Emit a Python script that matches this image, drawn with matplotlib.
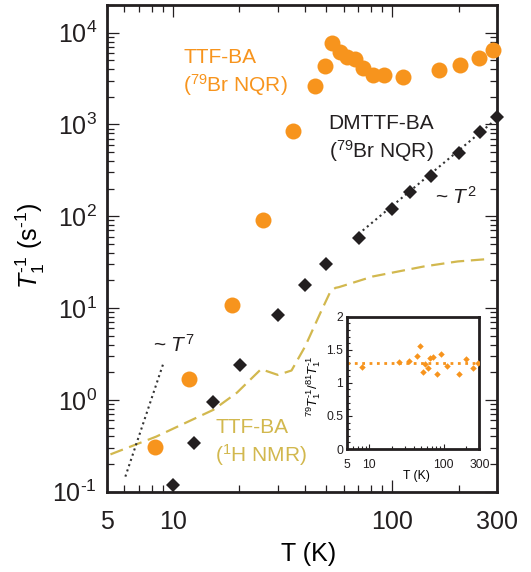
import matplotlib
matplotlib.use('Agg')
import matplotlib.pyplot as plt
from matplotlib.ticker import FixedLocator, FixedFormatter, NullFormatter, LogLocator, MultipleLocator

plt.rcParams['font.family'] = ['Liberation Sans', 'DejaVu Sans']
plt.rcParams['mathtext.fontset'] = 'custom'
plt.rcParams['mathtext.rm'] = 'Liberation Sans'
plt.rcParams['mathtext.it'] = 'Liberation Sans:italic'
plt.rcParams['mathtext.bf'] = 'Liberation Sans:bold'

HY = '\u2010'  # plain hyphen, the original uses it instead of a minus

# TTF-BA, 79Br NQR (orange circles)
ttf_T = [8.3, 11.9, 18.5, 25.6, 35.3, 44.3, 49.1, 53.2, 57.6, 62.3, 67.6, 73.2,
         81.4, 91.5, 112, 163, 202, 247, 287]
ttf_rate = [0.31, 1.68, 10.9, 92, 840, 2610, 4350, 7700, 6130, 5460, 5100, 4170,
            3440, 3440, 3300, 3940, 4420, 5330, 6440]

# DMTTF-BA, 79Br NQR (black diamonds)
dm_T = [10.0, 12.5, 15.3, 20.3, 30.1, 40.1, 49.8, 70.1, 100, 120, 150, 201, 250, 300]
dm_rate = [0.119, 0.34, 0.944, 2.39, 8.39, 17.8, 30.2, 58.4, 121, 182, 277, 494, 822, 1210]

# TTF-BA, 1H NMR (dashed curve)
nmr_T = [5.2, 8.4, 15.3, 19.6, 25.2, 30.1, 34.7, 40, 46.9, 52.2, 55, 57, 81.4, 139, 198, 272]
nmr_rate = [0.255, 0.398, 0.78, 1.2, 2.16, 1.87, 2.09, 3.81, 8.8, 15.2, 16.6, 16.9,
            22.1, 28.4, 32.2, 34.2]

# guide lines ~T^2 and ~T^7 (end points)
t2_T = [70, 283]
t2_rate = [64, 1040]
t7_T = [6.08, 9.08]
t7_rate = [0.146, 2.55]

# inset: 79T1^-1 / 81T1^-1
ratio_T = [8.05, 25.2, 34.3, 43.6, 47.8, 52.5, 56.5, 60.7, 65.3, 70.9, 80.3, 90.9,
           110.7, 162, 200, 245, 287]
ratio = [1.24, 1.31, 1.33, 1.41, 1.56, 1.17, 1.28, 1.23, 1.37, 1.39, 1.14, 1.43,
         1.25, 1.14, 1.36, 1.23, 1.30]
ratio_mean = 1.30

x_major = [5, 10, 100, 300]
x_labels = ['5', '10', '100', '300']
x_minor = [6, 7, 8, 9, 20, 30, 40, 50, 60, 70, 80, 90, 200]
y_major = [0.1, 1, 10, 100, 1000, 10000]
y_labels = ['$10^{' + HY + '1}$', '$10^{0}$', '$10^{1}$', '$10^{2}$', '$10^{3}$', '$10^{4}$']

ORANGE = '#F7941D'
BLACK = '#231F20'
GOLD = '#D2B84E'

W, H = 531, 572
fig = plt.figure(figsize=(W / 100, H / 100), dpi=100)


def fx(px):
    return px / W


def fy(py):
    return 1 - py / H


ax = fig.add_axes([fx(106.7), fy(491.7), (497.3 - 106.7) / W, (491.7 - 5) / H])
ax.set_xscale('log')
ax.set_yscale('log')

ax.plot(nmr_T, nmr_rate, '--', color=GOLD, lw=1.6, dashes=(6, 3), zorder=2)
ax.plot(t2_T, t2_rate, ':', color='#333333', lw=1.5, zorder=2)
ax.plot(t7_T, t7_rate, ':', color='#333333', lw=1.5, zorder=2)
ax.plot(ttf_T, ttf_rate, 'o', color=ORANGE, ms=11.5, mew=0, clip_on=False, zorder=3)
ax.plot(dm_T, dm_rate, 'D', color=BLACK, ms=6.8, mew=0, clip_on=False, zorder=4)

ax.set_xlim(5, 300)
ax.set_ylim(0.1, 2e4)
ax.xaxis.set_major_locator(FixedLocator(x_major))
ax.xaxis.set_major_formatter(FixedFormatter(x_labels))
ax.xaxis.set_minor_locator(FixedLocator(x_minor))
ax.xaxis.set_minor_formatter(NullFormatter())
ax.yaxis.set_major_locator(FixedLocator(y_major))
ax.yaxis.set_major_formatter(FixedFormatter(y_labels))
ax.yaxis.set_minor_locator(LogLocator(base=10, subs=range(2, 10), numticks=20))
ax.yaxis.set_minor_formatter(NullFormatter())

ax.tick_params(which='both', direction='in', top=True, right=True, width=0.9, colors='#231F20')
ax.tick_params(which='major', length=8.6, labelsize=18)
ax.tick_params(which='minor', length=4.7)
ax.tick_params(axis='x', which='major', pad=13)
ax.tick_params(axis='y', which='major', pad=7)
for s in ax.spines.values():
    s.set_linewidth(2.0)
    s.set_color('#231F20')

ax.set_xlabel('T (K)', fontsize=18, va='center')
ax.xaxis.set_label_coords((308.3 - 106.7) / 390.6, (491.7 - 554) / 486.7)
ax.set_ylabel('$T_1^{' + HY + '1}$ (s$^{' + HY + '1}$)', fontsize=18, va='center')
ax.yaxis.set_label_coords((30 - 106.7) / 390.6, (491.7 - 246) / 486.7)

# annotations
fig.text(fx(183), fy(73), 'TTF-BA\n($^{79}$Br NQR)', color=ORANGE, fontsize=15,
         ha='left', va='center', linespacing=1.3)
fig.text(fx(328.6), fy(139), 'DMTTF-BA\n($^{79}$Br NQR)', color=BLACK, fontsize=15,
         ha='left', va='center', linespacing=1.3)
fig.text(fx(215), fy(443), 'TTF-BA\n($^{1}$H NMR)', color=GOLD, fontsize=15,
         ha='left', va='center', linespacing=1.3)
fig.text(fx(435), fy(197), '~ $T^2$', color=BLACK, fontsize=15, ha='left', va='center')
fig.text(fx(153), fy(345), '~ $T^7$', color=BLACK, fontsize=15, ha='left', va='center')

# inset
axin = fig.add_axes([fx(346.7), fy(449), 132.6 / W, 132.3 / H])
axin.set_xscale('log')
axin.axhline(ratio_mean, color=ORANGE, ls=':', lw=2.0, zorder=2)
axin.plot(ratio_T, ratio, 'D', color=ORANGE, ms=3.3, mew=0, zorder=3)
axin.set_xlim(5, 300)
axin.set_ylim(0, 2)
axin.xaxis.set_major_locator(FixedLocator(x_major))
axin.xaxis.set_major_formatter(FixedFormatter(x_labels))
axin.xaxis.set_minor_locator(FixedLocator(x_minor))
axin.xaxis.set_minor_formatter(NullFormatter())
axin.yaxis.set_major_locator(FixedLocator([0, 0.5, 1, 1.5, 2]))
axin.yaxis.set_major_formatter(FixedFormatter(['0', '0.5', '1', '1.5', '2']))
axin.yaxis.set_minor_locator(MultipleLocator(0.1))
axin.tick_params(which='both', direction='in', width=0.8, colors='#231F20')
axin.tick_params(which='major', length=3.6, labelsize=8.7)
axin.tick_params(which='minor', length=2.2)
axin.tick_params(axis='x', which='major', pad=7)
axin.tick_params(axis='y', which='major', pad=2.5)
for s in axin.spines.values():
    s.set_linewidth(2.0)
    s.set_color('#231F20')
axin.set_xlabel('T (K)', fontsize=8.7, va='center')
axin.xaxis.set_label_coords((416.7 - 346.7) / 132.6, (449 - 476) / 132.3)
axin.set_ylabel('$^{79}T_1^{' + HY + '1}/^{81}T_1^{' + HY + '1}$', fontsize=9.5, va='center')
axin.yaxis.set_label_coords((313.3 - 346.7) / 132.6, (449 - 386) / 132.3)

fig.savefig('out.png', dpi=100)
